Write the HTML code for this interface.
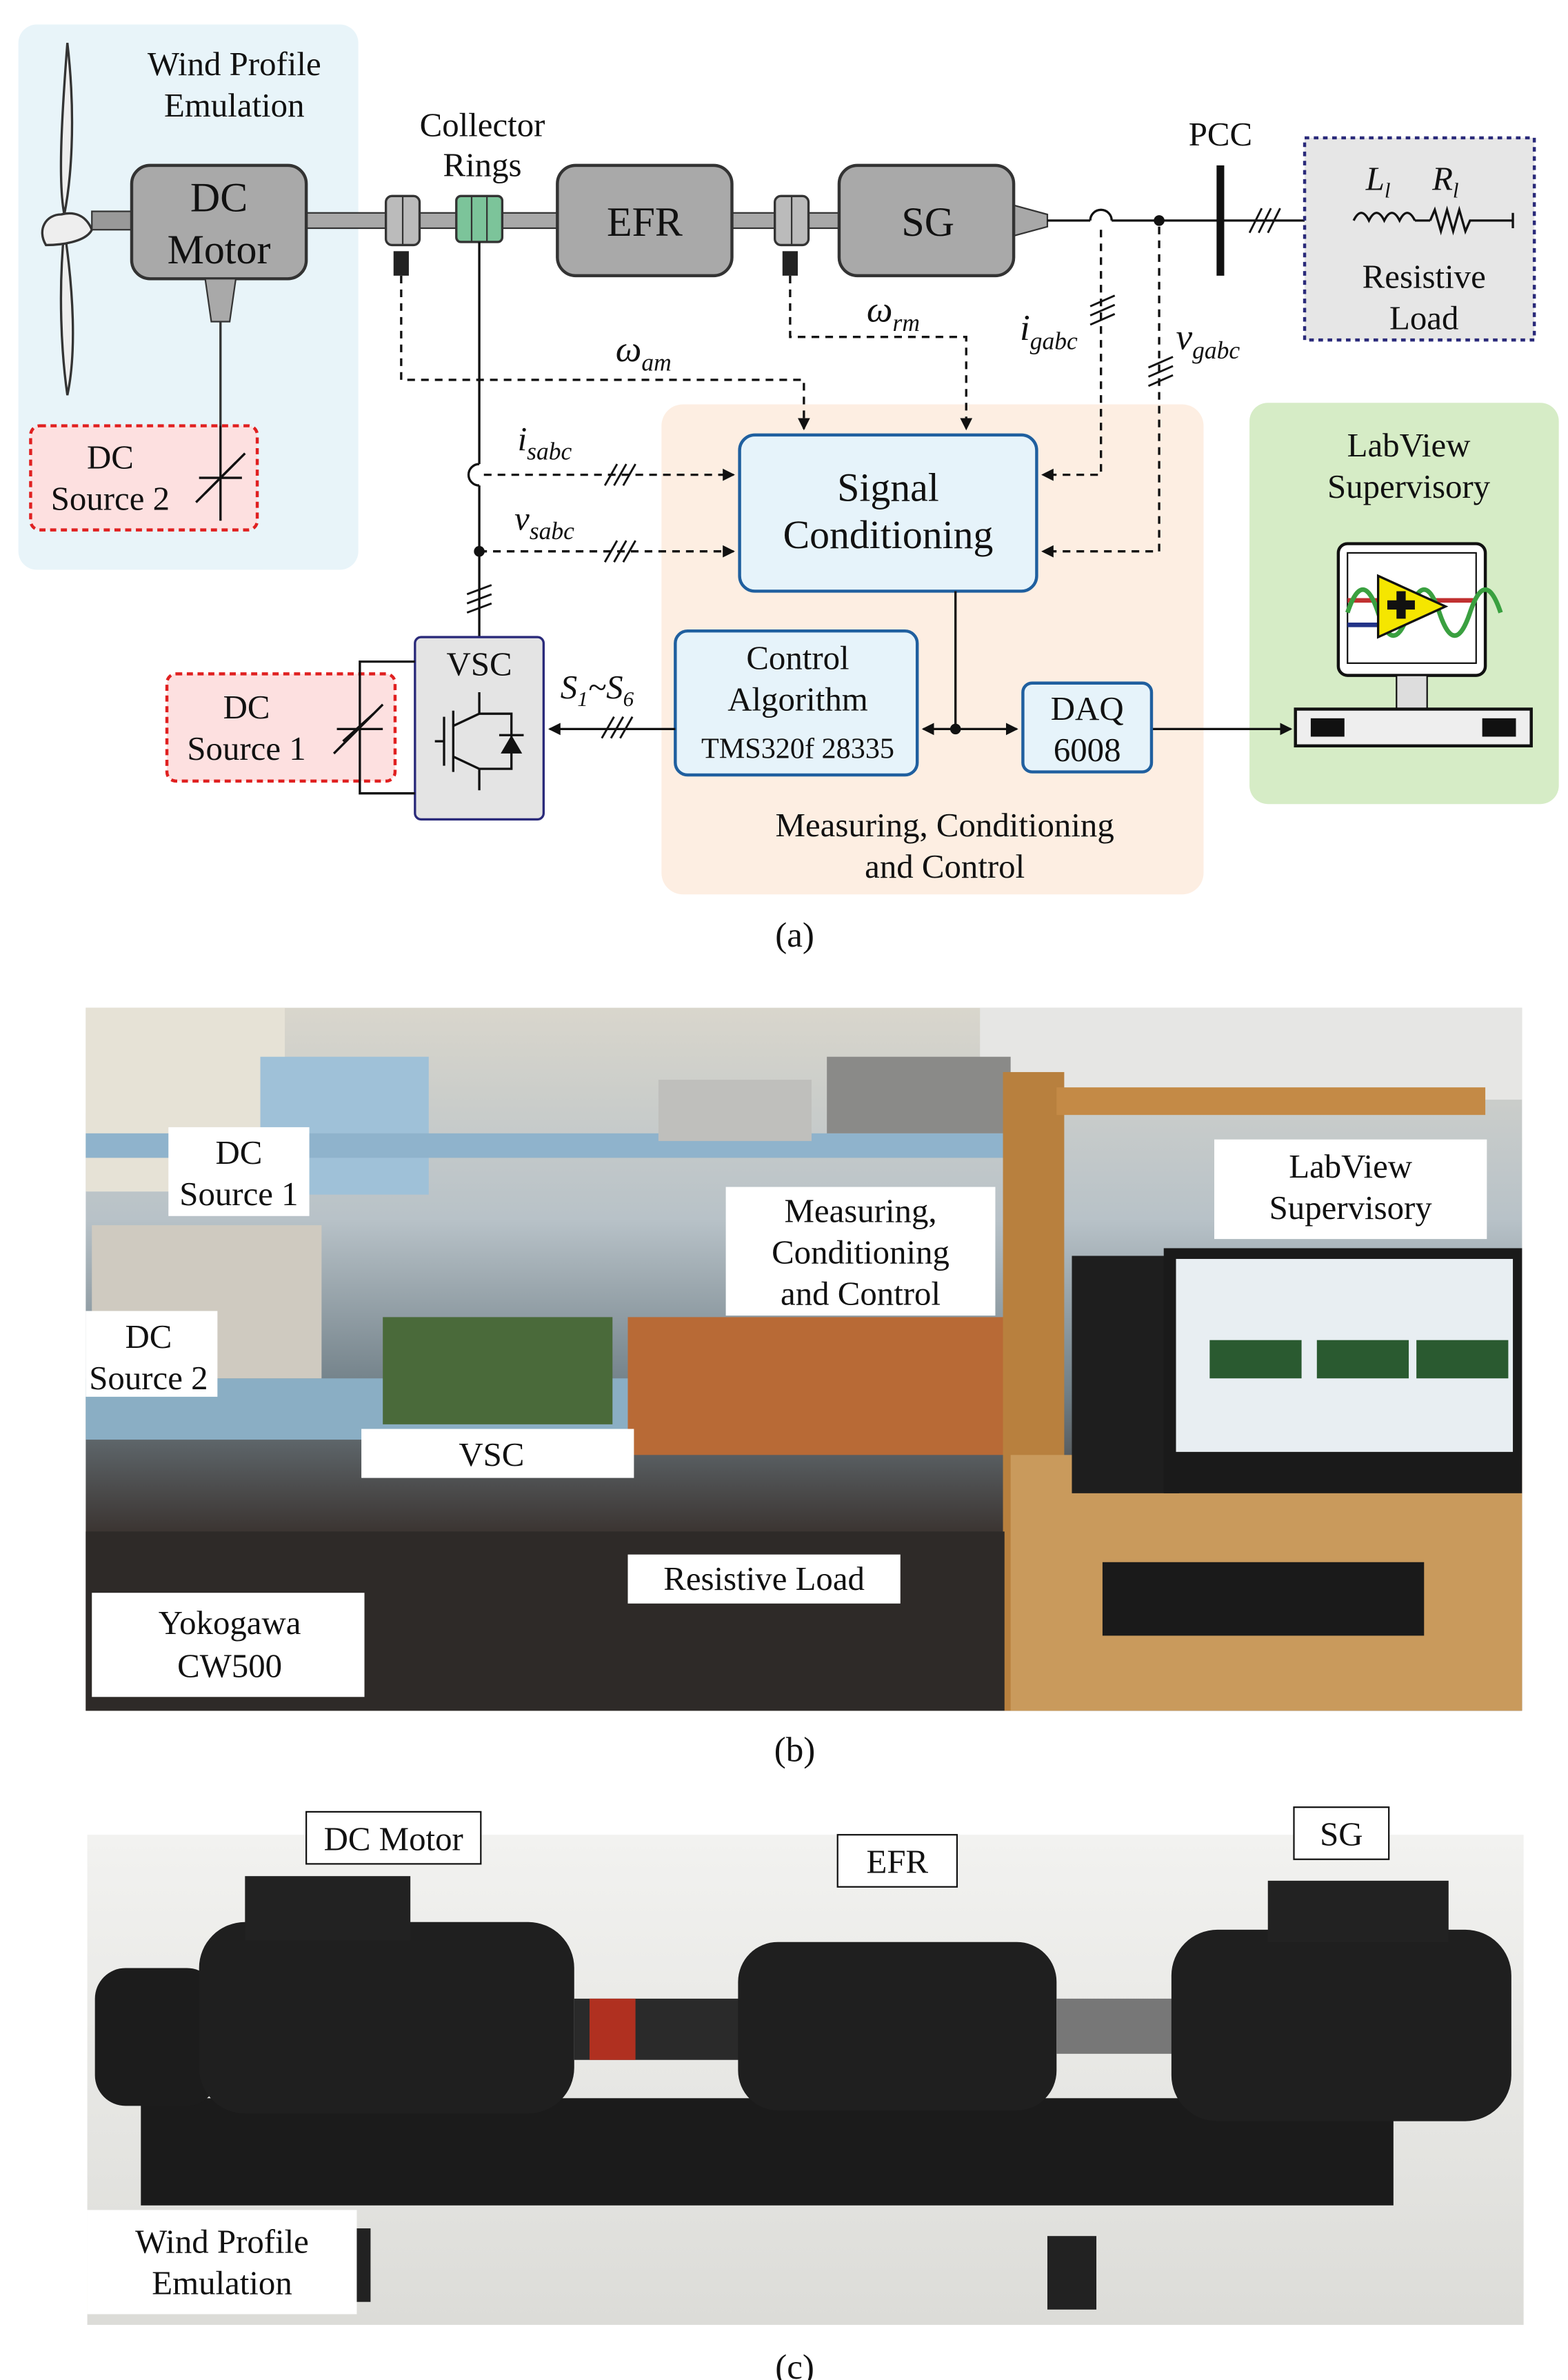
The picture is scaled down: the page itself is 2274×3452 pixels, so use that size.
<!DOCTYPE html>
<html><head><meta charset="utf-8"><style>
html,body{margin:0;padding:0;background:#fff;}
svg{display:block;}
text{font-family:"Liberation Serif",serif;fill:#111;}
</style></head><body>
<svg width="2274" height="3452" viewBox="0 0 1024 1554" preserveAspectRatio="none" xmlns="http://www.w3.org/2000/svg">
<defs>
<marker id="ar" markerWidth="8" markerHeight="8" refX="7" refY="4" orient="auto" markerUnits="userSpaceOnUse"><path d="M0,0 L8,4 L0,8 z" fill="#111"/></marker>
<linearGradient id="gb" x1="0" y1="0" x2="0" y2="1"><stop offset="0" stop-color="#d9d6cc"/><stop offset="0.3" stop-color="#b8c2c8"/><stop offset="0.55" stop-color="#6f7e86"/><stop offset="0.75" stop-color="#3a3330"/><stop offset="1" stop-color="#2a2624"/></linearGradient>
<linearGradient id="gc" x1="0" y1="0" x2="0" y2="1"><stop offset="0" stop-color="#f2f2f0"/><stop offset="1" stop-color="#dcdcd8"/></linearGradient>
</defs>

<!-- Panel (a) backgrounds -->
<rect x="12" y="16" width="222" height="356" rx="12" fill="#e8f4f9"/>
<rect x="432" y="264" width="354" height="320" rx="14" fill="#fdeee2"/>
<rect x="816" y="263" width="202" height="262" rx="12" fill="#d6ecc6"/>

<!-- turbine -->
<path d="M44,28 C40,80 38,120 42,140 C46,120 50,80 44,28 Z" fill="#eee" stroke="#333" stroke-width="1.5"/>
<path d="M42,150 C38,190 40,230 44,258 C50,230 48,190 42,150 Z" fill="#eee" stroke="#333" stroke-width="1.5"/>
<path d="M40,140 C30,140 24,150 30,160 C40,160 56,158 60,150 C56,140 48,138 40,140 Z" fill="#eee" stroke="#333" stroke-width="1.5"/>
<rect x="60" y="138" width="26" height="12" fill="#999" stroke="#333"/>

<text x="153" y="49" font-size="22" text-anchor="middle">Wind Profile</text>
<text x="153" y="76" font-size="22" text-anchor="middle">Emulation</text>

<!-- shaft -->
<rect x="200" y="139" width="480" height="10" fill="#a8a8a8" stroke="#333" stroke-width="1"/>
<polygon points="662,134 684,140 684,148 662,154" fill="#a8a8a8" stroke="#333"/>

<!-- DC motor -->
<rect x="86" y="108" width="114" height="74" rx="12" fill="#a9a9a9" stroke="#333" stroke-width="2"/>
<text x="143" y="138" font-size="27" text-anchor="middle">DC</text>
<text x="143" y="172" font-size="27" text-anchor="middle">Motor</text>
<polygon points="134,182 154,182 150,210 138,210" fill="#a9a9a9" stroke="#333"/>
<line x1="144" y1="210" x2="144" y2="278" stroke="#333" stroke-width="1.5"/>

<!-- couplings -->
<rect x="252" y="128" width="22" height="32" rx="4" fill="#bbb" stroke="#333" stroke-width="1.5"/>
<line x1="263" y1="128" x2="263" y2="160" stroke="#333"/>
<rect x="506" y="128" width="22" height="32" rx="4" fill="#bbb" stroke="#333" stroke-width="1.5"/>
<line x1="517" y1="128" x2="517" y2="160" stroke="#333"/>
<rect x="257" y="164" width="10" height="16" fill="#222"/>
<rect x="511" y="164" width="10" height="16" fill="#222"/>
<!-- collector rings -->
<rect x="298" y="128" width="30" height="30" rx="3" fill="#7cc49a" stroke="#333" stroke-width="1.5"/>
<line x1="308" y1="128" x2="308" y2="158" stroke="#333"/><line x1="318" y1="128" x2="318" y2="158" stroke="#333"/>
<text x="315" y="89" font-size="22" text-anchor="middle">Collector</text>
<text x="315" y="115" font-size="22" text-anchor="middle">Rings</text>

<!-- EFR, SG -->
<rect x="364" y="108" width="114" height="72" rx="12" fill="#a9a9a9" stroke="#333" stroke-width="2"/>
<text x="421" y="154" font-size="27" text-anchor="middle">EFR</text>
<rect x="548" y="108" width="114" height="72" rx="12" fill="#a9a9a9" stroke="#333" stroke-width="2"/>
<text x="606" y="154" font-size="27" text-anchor="middle">SG</text>

<!-- grid line -->
<line x1="684" y1="144" x2="712" y2="144" stroke="#111" stroke-width="1.5"/>
<path d="M712,144 A7,7 0 0 1 726,144" fill="none" stroke="#111" stroke-width="1.5"/>
<line x1="726" y1="144" x2="884" y2="144" stroke="#111" stroke-width="1.5"/>
<circle cx="757" cy="144" r="3.5" fill="#111"/>
<line x1="797" y1="108" x2="797" y2="180" stroke="#111" stroke-width="5"/>
<text x="797" y="95" font-size="22" text-anchor="middle">PCC</text>
<g stroke="#111" stroke-width="1.3"><line x1="816" y1="152" x2="824" y2="136"/><line x1="822" y1="152" x2="830" y2="136"/><line x1="828" y1="152" x2="836" y2="136"/></g>

<!-- resistive load -->
<rect x="852" y="90" width="150" height="132" fill="#e6e6e6" stroke="#2a2a7a" stroke-width="2" stroke-dasharray="3,3"/>
<path d="M884,144 q5,-10 10,0 q5,-10 10,0 q5,-10 10,0 q5,-10 10,0" fill="none" stroke="#111" stroke-width="1.5"/>
<line x1="924" y1="144" x2="934" y2="144" stroke="#111" stroke-width="1.5"/>
<polyline points="934,144 937,137 941,151 945,137 949,151 953,137 957,151 960,144 988,144" fill="none" stroke="#111" stroke-width="1.5"/>
<line x1="988" y1="139" x2="988" y2="149" stroke="#111" stroke-width="1.5"/>
<text x="900" y="124" font-size="22" font-style="italic" text-anchor="middle">L<tspan font-size="14" dy="5">l</tspan></text>
<text x="944" y="124" font-size="22" font-style="italic" text-anchor="middle">R<tspan font-size="14" dy="5">l</tspan></text>
<text x="930" y="188" font-size="22" text-anchor="middle">Resistive</text>
<text x="930" y="215" font-size="22" text-anchor="middle">Load</text>

<!-- DC source 2 -->
<rect x="20" y="278" width="148" height="68" rx="6" fill="#fde0e0" stroke="#e02020" stroke-width="2" stroke-dasharray="4,3"/>
<text x="72" y="306" font-size="22" text-anchor="middle">DC</text>
<text x="72" y="333" font-size="22" text-anchor="middle">Source 2</text>
<g stroke="#111" stroke-width="1.5" fill="none"><line x1="144" y1="278" x2="144" y2="340"/><line x1="130" y1="312" x2="158" y2="312"/><line x1="134" y1="322" x2="154" y2="302"/><line x1="128" y1="328" x2="160" y2="296"/></g>

<!-- dashed signal lines -->
<g stroke="#111" stroke-width="1.5" stroke-dasharray="5,4" fill="none">
<polyline points="262,180 262,248 525,248 525,280" marker-end="url(#ar)"/>
<polyline points="516,180 516,220 631,220 631,280" marker-end="url(#ar)"/>
<polyline points="719,150 719,310 681,310" marker-end="url(#ar)"/>
<polyline points="757,148 757,360 681,360" marker-end="url(#ar)"/>
<polyline points="316,310 479,310" marker-end="url(#ar)"/>
<polyline points="313,360 479,360" marker-end="url(#ar)"/>
</g>
<text x="402" y="236" font-size="24" font-style="italic">ω<tspan font-size="16" dy="6">am</tspan></text>
<text x="566" y="210" font-size="24" font-style="italic">ω<tspan font-size="16" dy="6">rm</tspan></text>
<text x="666" y="222" font-size="24" font-style="italic">i<tspan font-size="16" dy="6">gabc</tspan></text>
<text x="768" y="228" font-size="24" font-style="italic">v<tspan font-size="16" dy="6">gabc</tspan></text>
<text x="338" y="294" font-size="22" font-style="italic">i<tspan font-size="16" dy="6">sabc</tspan></text>
<text x="336" y="346" font-size="22" font-style="italic">v<tspan font-size="16" dy="6">sabc</tspan></text>
<g stroke="#111" stroke-width="1.3">
<line x1="395" y1="317" x2="403" y2="303"/><line x1="401" y1="317" x2="409" y2="303"/><line x1="407" y1="317" x2="415" y2="303"/>
<line x1="395" y1="367" x2="403" y2="353"/><line x1="401" y1="367" x2="409" y2="353"/><line x1="407" y1="367" x2="415" y2="353"/>
<line x1="712" y1="200" x2="728" y2="193"/><line x1="712" y1="206" x2="728" y2="199"/><line x1="712" y1="212" x2="728" y2="205"/>
<line x1="750" y1="240" x2="766" y2="233"/><line x1="750" y1="246" x2="766" y2="239"/><line x1="750" y1="252" x2="766" y2="245"/>
<line x1="305" y1="388" x2="321" y2="382"/><line x1="305" y1="394" x2="321" y2="388"/><line x1="305" y1="400" x2="321" y2="394"/>
<line x1="393" y1="482" x2="401" y2="468"/><line x1="399" y1="482" x2="407" y2="468"/><line x1="405" y1="482" x2="413" y2="468"/>
</g>

<!-- collector to VSC vertical -->
<line x1="313" y1="158" x2="313" y2="303" stroke="#111" stroke-width="1.5"/>
<path d="M313,303 A7,7 0 0 0 313,317" fill="none" stroke="#111" stroke-width="1.5"/>
<line x1="313" y1="317" x2="313" y2="416" stroke="#111" stroke-width="1.5"/>
<circle cx="313" cy="360" r="3.5" fill="#111"/>

<!-- Signal Conditioning -->
<rect x="483" y="284" width="194" height="102" rx="10" fill="#e6f3fa" stroke="#1f5f9f" stroke-width="2"/>
<text x="580" y="327" font-size="26" text-anchor="middle">Signal</text>
<text x="580" y="358" font-size="26" text-anchor="middle">Conditioning</text>
<line x1="624" y1="386" x2="624" y2="476" stroke="#111" stroke-width="1.5"/>
<circle cx="624" cy="476" r="3.5" fill="#111"/>
<line x1="624" y1="476" x2="603" y2="476" stroke="#111" stroke-width="1.5" marker-end="url(#ar)"/>
<line x1="624" y1="476" x2="664" y2="476" stroke="#111" stroke-width="1.5" marker-end="url(#ar)"/>
<line x1="752" y1="476" x2="843" y2="476" stroke="#111" stroke-width="1.5" marker-end="url(#ar)"/>

<rect x="441" y="412" width="158" height="94" rx="8" fill="#e6f3fa" stroke="#1f5f9f" stroke-width="2"/>
<text x="521" y="437" font-size="22" text-anchor="middle">Control</text>
<text x="521" y="464" font-size="22" text-anchor="middle">Algorithm</text>
<text x="521" y="495" font-size="19" text-anchor="middle">TMS320f 28335</text>
<rect x="668" y="446" width="84" height="58" rx="6" fill="#e6f3fa" stroke="#1f5f9f" stroke-width="2"/>
<text x="710" y="470" font-size="22" text-anchor="middle">DAQ</text>
<text x="710" y="497" font-size="22" text-anchor="middle">6008</text>
<text x="617" y="546" font-size="22" text-anchor="middle">Measuring, Conditioning</text>
<text x="617" y="573" font-size="22" text-anchor="middle">and Control</text>

<!-- S1~S6 -->
<line x1="441" y1="476" x2="359" y2="476" stroke="#111" stroke-width="1.5" marker-end="url(#ar)"/>
<text x="366" y="456" font-size="22" font-style="italic">S<tspan font-size="14" dy="5">1</tspan><tspan dy="-5">~S</tspan><tspan font-size="14" dy="5">6</tspan></text>

<!-- VSC -->
<rect x="271" y="416" width="84" height="119" rx="4" fill="#e4e4e4" stroke="#2a2a7a" stroke-width="1.5"/>
<text x="313" y="441" font-size="22" text-anchor="middle">VSC</text>
<g stroke="#111" stroke-width="1.5" fill="none">
<line x1="290" y1="468" x2="290" y2="500"/><line x1="284" y1="484" x2="290" y2="484"/>
<line x1="296" y1="464" x2="296" y2="504"/>
<polyline points="313,452 313,466 296,474"/><polyline points="296,494 313,502 313,516"/>
<polyline points="313,466 334,466 334,502 313,502"/>
<line x1="326" y1="480" x2="342" y2="480"/>
</g>
<polygon points="334,480 327,492 341,492" fill="#111"/>

<!-- DC source 1 -->
<rect x="109" y="440" width="149" height="70" rx="6" fill="#fde0e0" stroke="#e02020" stroke-width="2" stroke-dasharray="4,3"/>
<polyline points="271,432 235,432 235,518 271,518" fill="none" stroke="#111" stroke-width="1.5"/>
<text x="161" y="469" font-size="22" text-anchor="middle">DC</text>
<text x="161" y="496" font-size="22" text-anchor="middle">Source 1</text>
<g stroke="#111" stroke-width="1.5" fill="none"><line x1="220" y1="476" x2="250" y2="476"/><line x1="224" y1="484" x2="244" y2="466"/><line x1="218" y1="492" x2="250" y2="460"/></g>

<!-- LabView -->
<text x="920" y="298" font-size="22" text-anchor="middle">LabView</text>
<text x="920" y="325" font-size="22" text-anchor="middle">Supervisory</text>
<rect x="874" y="355" width="96" height="86" rx="6" fill="#fff" stroke="#111" stroke-width="2"/>
<rect x="880" y="361" width="84" height="72" fill="#fff" stroke="#111"/>
<line x1="880" y1="392" x2="964" y2="392" stroke="#c03030" stroke-width="3"/>
<path d="M880,400 q10,-30 20,0 t20,0 t20,0 t20,0 t20,0" fill="none" stroke="#3aa040" stroke-width="3"/>
<line x1="880" y1="408" x2="906" y2="408" stroke="#223388" stroke-width="3"/>
<polygon points="900,376 900,416 944,396" fill="#f5e600" stroke="#111" stroke-width="1.5"/>
<path d="M906,392 h6 v-6 h6 v6 h6 v6 h-6 v6 h-6 v-6 h-6 z" fill="#111"/>
<rect x="912" y="441" width="20" height="22" fill="#ddd" stroke="#111"/>
<rect x="846" y="463" width="154" height="24" fill="#eee" stroke="#111" stroke-width="2"/>
<rect x="856" y="469" width="22" height="12" fill="#111"/><rect x="968" y="469" width="22" height="12" fill="#111"/>

<text x="519" y="618" font-size="23" text-anchor="middle">(a)</text>

<!-- Panel (b) photo approximation -->
<rect x="56" y="658" width="938" height="459" fill="url(#gb)"/>
<rect x="56" y="658" width="130" height="120" fill="#e6e2d6"/>
<rect x="640" y="658" width="354" height="60" fill="#e6e6e4"/>
<rect x="170" y="690" width="110" height="90" fill="#9fc1d8"/>
<rect x="56" y="740" width="620" height="16" fill="#8fb3cc"/>
<rect x="56" y="900" width="620" height="40" fill="#8aaec4"/>
<rect x="410" y="860" width="260" height="90" fill="#b86a36"/>
<rect x="250" y="860" width="150" height="70" fill="#4a6a3a"/>
<rect x="60" y="800" width="150" height="100" fill="#cfcac0"/>
<rect x="540" y="690" width="120" height="50" fill="#8a8a88"/>
<rect x="430" y="705" width="100" height="40" fill="#bfbfbc"/>
<rect x="655" y="700" width="40" height="417" fill="#b8803e"/>
<rect x="690" y="710" width="280" height="18" fill="#c48a46"/>
<rect x="660" y="950" width="334" height="167" fill="#c99a5c"/>
<rect x="700" y="820" width="70" height="155" fill="#1e1e1e"/>
<rect x="760" y="815" width="234" height="160" fill="#1a1a1a"/>
<rect x="768" y="822" width="220" height="126" fill="#e8eef2"/>
<rect x="790" y="875" width="60" height="25" fill="#2a5a30"/><rect x="860" y="875" width="60" height="25" fill="#2a5a30"/><rect x="925" y="875" width="60" height="25" fill="#2a5a30"/>
<rect x="720" y="1020" width="210" height="48" fill="#1a1a1a"/>
<rect x="56" y="1000" width="600" height="117" fill="#2e2a28"/>
<g font-size="22">
<rect x="110" y="736" width="92" height="58" fill="#fff"/><text x="156" y="760" text-anchor="middle">DC</text><text x="156" y="787" text-anchor="middle">Source 1</text>
<rect x="56" y="856" width="86" height="56" fill="#fff"/><text x="97" y="880" text-anchor="middle">DC</text><text x="97" y="907" text-anchor="middle">Source 2</text>
<rect x="474" y="775" width="176" height="84" fill="#fff"/><text x="562" y="798" text-anchor="middle">Measuring,</text><text x="562" y="825" text-anchor="middle">Conditioning</text><text x="562" y="852" text-anchor="middle">and Control</text>
<rect x="793" y="744" width="178" height="65" fill="#fff"/><text x="882" y="769" text-anchor="middle">LabView</text><text x="882" y="796" text-anchor="middle">Supervisory</text>
<rect x="236" y="933" width="178" height="32" fill="#fff"/><text x="321" y="957" text-anchor="middle">VSC</text>
<rect x="410" y="1015" width="178" height="32" fill="#fff"/><text x="499" y="1038" text-anchor="middle">Resistive Load</text>
<rect x="60" y="1040" width="178" height="68" fill="#fff"/><text x="150" y="1067" text-anchor="middle">Yokogawa</text><text x="150" y="1095" text-anchor="middle">CW500</text>
</g>
<text x="519" y="1150" font-size="23" text-anchor="middle">(b)</text>

<!-- Panel (c) photo approximation -->
<rect x="57" y="1198" width="938" height="320" fill="url(#gc)"/>
<rect x="92" y="1370" width="818" height="70" fill="#1b1b1b"/>
<rect x="62" y="1285" width="80" height="90" rx="20" fill="#1c1c1c"/>
<rect x="130" y="1255" width="245" height="125" rx="30" fill="#1f1f1f"/>
<rect x="160" y="1225" width="108" height="42" fill="#222"/>
<rect x="375" y="1305" width="110" height="40" fill="#2a2a2a"/>
<rect x="385" y="1305" width="30" height="40" fill="#b03020"/>
<rect x="482" y="1268" width="208" height="110" rx="26" fill="#1f1f1f"/>
<rect x="690" y="1305" width="80" height="36" fill="#777"/>
<rect x="765" y="1260" width="222" height="125" rx="30" fill="#1f1f1f"/>
<rect x="828" y="1228" width="118" height="40" fill="#222"/>
<rect x="684" y="1460" width="32" height="48" fill="#222"/>
<rect x="210" y="1455" width="32" height="48" fill="#222"/>
<g font-size="22">
<rect x="200" y="1183" width="114" height="34" fill="#fff" stroke="#111"/><text x="257" y="1208" text-anchor="middle">DC Motor</text>
<rect x="547" y="1198" width="78" height="34" fill="#fff" stroke="#111"/><text x="586" y="1223" text-anchor="middle">EFR</text>
<rect x="845" y="1180" width="62" height="34" fill="#fff" stroke="#111"/><text x="876" y="1205" text-anchor="middle">SG</text>
<rect x="57" y="1443" width="176" height="68" fill="#fff"/><text x="145" y="1471" text-anchor="middle">Wind Profile</text><text x="145" y="1498" text-anchor="middle">Emulation</text>
</g>
<text x="519" y="1553" font-size="23" text-anchor="middle">(c)</text>
</svg>
</body></html>
